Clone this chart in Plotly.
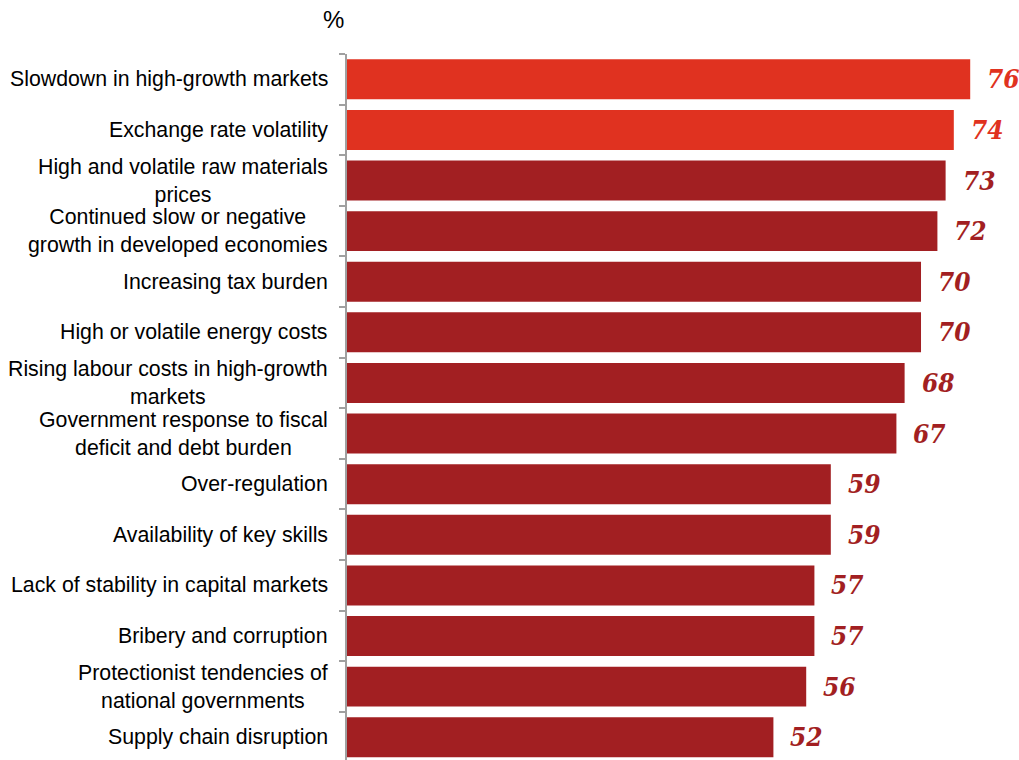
import plotly.graph_objects as go

# Business threats, share of respondents (%)
categories = [
    "Slowdown in high-growth markets",
    "Exchange rate volatility",
    "High and volatile raw materials<br>prices",
    "Continued slow or negative<br>growth in developed economies",
    "Increasing tax burden",
    "High or volatile energy costs",
    "Rising labour costs in high-growth<br>markets",
    "Government response to fiscal<br>deficit and debt burden",
    "Over-regulation",
    "Availability of key skills",
    "Lack of stability in capital markets",
    "Bribery and corruption",
    "Protectionist tendencies of<br>national governments",
    "Supply chain disruption",
]
values = [76, 74, 73, 72, 70, 70, 68, 67, 59, 59, 57, 57, 56, 52]

BRIGHT = "#E03220"
DARK = "#A21F22"
N_HIGHLIGHT = 2
colors = [BRIGHT if i < N_HIGHLIGHT else DARK for i in range(len(values))]

fig = go.Figure(
    go.Bar(
        x=values,
        y=categories,
        orientation="h",
        marker=dict(color=colors, line=dict(width=0)),
        hoverinfo="x+y",
    )
)

annotations = []
# Category labels: right-aligned block, centred lines
for cat in categories:
    annotations.append(dict(
        x=0, xref="paper", y=cat, yref="y",
        text=cat, showarrow=False,
        xanchor="right", yanchor="middle", align="center",
        xshift=-17,
        font=dict(family="Liberation Sans, Arial, sans-serif", size=21.3, color="#000000"),
    ))
# Value labels
for cat, v, c in zip(categories, values, colors):
    annotations.append(dict(
        x=v, xref="x", y=cat, yref="y",
        text=f"<b><i>{v}</i></b>", showarrow=False,
        xanchor="left", yanchor="middle", xshift=15,
        font=dict(family="DejaVu Serif Condensed, Liberation Serif, serif", size=26, color=c),
    ))
# Unit label
annotations.append(dict(
    x=0, xref="paper", y=1, yref="paper",
    text="%", showarrow=False, xanchor="center", yanchor="middle",
    xshift=-14, yshift=35,
    font=dict(family="Liberation Sans, Arial, sans-serif", size=24, color="#000000"),
))

fig.update_layout(
    width=1019, height=760,
    margin=dict(l=347, r=0, t=54, b=0),
    paper_bgcolor="white", plot_bgcolor="white",
    bargap=0.21,
    showlegend=False,
    annotations=annotations,
    xaxis=dict(visible=False, range=[0, 81.95], fixedrange=True),
    yaxis=dict(
        type="category",
        categoryorder="array", categoryarray=categories,
        range=[13.45, -0.5],
        showticklabels=False,
        showline=True, linecolor="#A0A0A0", linewidth=2,
        ticks="outside", tickson="boundaries", ticklen=6,
        tickcolor="#A0A0A0", tickwidth=2,
        showgrid=False, zeroline=False,
    ),
)

fig.write_html("out.html")
